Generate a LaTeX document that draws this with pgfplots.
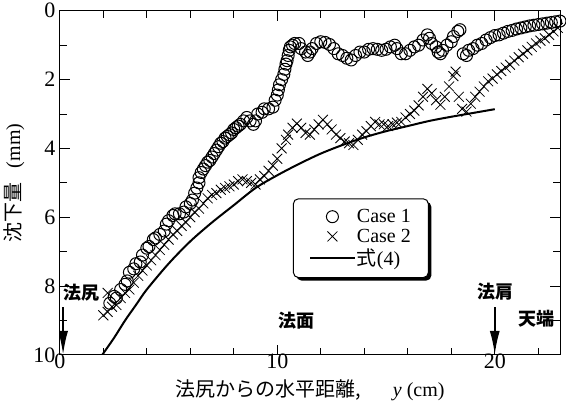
\documentclass[border=0pt]{standalone}
\usepackage{pgfplots}
\pgfplotsset{compat=1.18}
\usepackage{fontspec}
\setmainfont{Liberation Serif}
\newfontfamily\jp{Noto Sans CJK JP}
\usetikzlibrary{arrows.meta,shadows}
\makeatletter
\tikzset{nopre/.code={\let\tikz@preactions\pgfutil@empty}}
\makeatother
\begin{document}
\begin{tikzpicture}
\begin{axis}[
  scale only axis, width=500pt, height=344pt,
  xmin=0, xmax=23, ymin=0, ymax=10, y dir=reverse,
  xtick={0,10,20}, minor xtick={2,4,6,8,12,14,16,18,22},
  ytick={0,2,4,6,8,10}, minor ytick={1,3,5,7,9},
  tick align=inside, major tick length=10pt, minor tick length=7pt,
  tick style={black, line width=0.8pt},
  axis line style={line width=1pt},
  ticklabel style={font=\fontsize{22}{22}\selectfont},
  xticklabel style={yshift=5pt},
  yticklabel style={xshift=-1pt},
  /pgf/number format/assume math mode=true,
  xlabel={{\jp 法尻からの水平距離,}\hspace{1.6em}\textit{y} (cm)},
  ylabel={{\jp 沈下量}\hspace{0.7em}(mm)},
  label style={font=\fontsize{20}{20}\selectfont},
  xlabel style={yshift=-5pt},
  ylabel style={yshift=2pt},
  legend cell align=left,
  legend image code/.code={\draw[nopre,mark repeat=2,mark phase=2,#1] plot coordinates {(0pt,0pt)(22pt,0pt)(44pt,0pt)};},
  legend style={at={(0.466,0.455)}, anchor=north west, rounded corners=5pt,
    draw=black, line width=1pt, fill=white,
    drop shadow={shadow xshift=3pt, shadow yshift=-3pt, fill=black, opacity=1},
    font=\fontsize{20}{20}\selectfont, inner xsep=16pt, inner ysep=9pt, row sep=2pt,
    nodes={inner sep=1.5pt},
    /tikz/every even column/.append style={column sep=22pt}},
]
\addplot[only marks, mark=o, mark size=6pt, mark options={line width=1pt, fill=white}] coordinates {
(2.3,8.5)(2.5,8.3)(2.6,8.35)(2.8,8.1)(3.0,7.95)(3.1,7.85)(3.2,7.6)(3.4,7.5)(3.5,7.35)(3.7,7.3)
(3.8,7.1)(4.0,6.9)(4.1,6.85)(4.3,6.65)(4.4,6.6)(4.6,6.5)(4.8,6.4)(4.9,6.2)(5.0,6.1)(5.2,5.95)
(5.3,5.9)(5.5,5.9)(5.7,5.85)(5.8,5.7)(6.0,5.6)(6.1,5.5)(6.2,5.3)(6.3,5.15)(6.4,5.0)(6.4,4.85)
(6.5,4.7)(6.6,4.6)(6.7,4.5)(6.8,4.4)(6.9,4.35)(7.0,4.25)(7.1,4.15)(7.2,4.05)(7.3,3.95)(7.4,3.85)
(7.5,3.8)(7.6,3.7)(7.7,3.65)(7.8,3.6)(7.9,3.55)(8.0,3.45)(8.1,3.4)(8.2,3.35)(8.3,3.3)(8.45,3.2)
(8.6,3.1)(8.75,3.2)(8.9,3.3)(9.0,3.2)(9.1,3.0)(9.3,2.95)(9.4,2.85)(9.6,2.85)(9.8,2.8)(9.9,2.6)
(10.0,2.45)(10.05,2.3)(10.1,2.15)(10.2,2.0)(10.3,1.85)(10.35,1.7)(10.4,1.55)(10.45,1.45)(10.5,1.3)(10.55,1.15)
(10.6,1.05)(10.7,1.0)(10.8,0.95)(11.0,0.95)(11.1,1.1)(11.3,1.2)(11.4,1.3)(11.5,1.2)(11.6,1.1)(11.8,0.95)
(12.0,0.9)(12.2,0.92)(12.4,0.98)(12.6,1.1)(12.8,1.25)(13.0,1.3)(13.2,1.38)(13.4,1.43)(13.6,1.3)(13.8,1.2)
(14.0,1.2)(14.2,1.12)(14.4,1.1)(14.6,1.12)(14.8,1.15)(15.0,1.12)(15.2,1.05)(15.4,1.0)(15.5,1.1)(15.7,1.25)
(15.9,1.25)(16.1,1.15)(16.3,1.05)(16.5,1.0)(16.7,0.85)(16.9,0.7)(17.0,0.8)(17.1,0.95)(17.3,1.05)(17.4,1.2)
(17.5,1.25)(17.6,1.15)(17.8,1.0)(18.0,0.9)(18.1,0.75)(18.3,0.6)(18.4,0.55)(18.55,1.25)(18.7,1.3)(18.8,1.15)
(19.0,1.1)(19.2,1.0)(19.4,0.95)(19.6,0.85)(19.8,0.78)(20.0,0.72)(20.2,0.7)(20.4,0.65)(20.6,0.6)(20.8,0.57)
(21.0,0.53)(21.2,0.5)(21.4,0.47)(21.6,0.44)(21.8,0.42)(22.0,0.4)(22.2,0.38)(22.4,0.36)(22.6,0.34)(22.8,0.32)(23.0,0.3)
};
\addlegendentry{Case 1}
\addplot[only marks, mark=x, mark size=7pt, mark options={line width=0.8pt}] coordinates {
(2.0,8.85)(2.2,8.75)(2.2,8.2)(2.4,8.6)(2.6,8.55)(2.8,8.35)(3.0,8.2)(3.2,8.1)(3.4,7.9)(3.6,7.7)
(3.8,7.55)(4.0,7.4)(4.2,7.25)(4.4,7.1)(4.6,6.95)(4.8,6.8)(5.0,6.65)(5.2,6.5)(5.4,6.4)(5.6,6.25)
(5.8,6.15)(6.0,6.0)(6.2,5.85)(6.4,5.75)(6.6,5.6)(6.8,5.45)(7.0,5.35)(7.2,5.3)(7.4,5.2)(7.6,5.15)
(7.8,5.1)(8.0,5.05)(8.2,4.95)(8.4,4.9)(8.6,4.95)(8.8,5.0)(9.0,5.05)(9.2,4.9)(9.4,4.8)(9.6,4.65)
(9.8,4.5)(10.0,4.3)(10.2,4.0)(10.4,3.75)(10.5,3.6)(10.7,3.4)(10.9,3.28)(11.1,3.4)(11.3,3.55)(11.5,3.6)
(11.7,3.45)(11.9,3.3)(12.1,3.17)(12.3,3.3)(12.5,3.45)(12.7,3.6)(12.9,3.7)(13.1,3.8)(13.3,3.85)(13.5,3.9)
(13.7,3.75)(13.9,3.6)(14.1,3.5)(14.3,3.35)(14.5,3.23)(14.7,3.3)(14.9,3.3)(15.1,3.35)(15.3,3.3)(15.5,3.25)
(15.7,3.23)(15.9,3.1)(16.1,3.0)(16.3,2.9)(16.5,2.75)(16.7,2.5)(16.9,2.27)(17.1,2.4)(17.3,2.6)(17.5,2.73)
(17.7,2.5)(17.9,2.2)(18.1,1.9)(18.2,1.77)(18.35,2.5)(18.5,2.85)(18.7,2.93)(18.9,2.7)(19.1,2.5)(19.3,2.35)
(19.5,2.2)(19.7,2.05)(19.9,1.97)(20.1,1.85)(20.3,1.75)(20.5,1.65)(20.7,1.57)(20.9,1.45)(21.1,1.35)(21.3,1.25)
(21.5,1.15)(21.7,1.05)(21.9,0.95)(22.1,0.87)(22.3,0.8)(22.5,0.7)(22.7,0.6)(22.9,0.5)
};
\addlegendentry{Case 2}
\addplot[black, line width=2pt, smooth, no marks] coordinates {
(1.95,10)(2.5,9.5)(3,9.0)(3.5,8.55)(4,8.1)(5,7.35)(6,6.7)(7,6.15)(8,5.65)(9,5.15)(10,4.78)
(11,4.45)(12,4.15)(13,3.9)(14,3.68)(15,3.5)(16,3.35)(17,3.2)(18,3.08)(19,2.97)(20,2.86)
};
\addlegendentry{{\jp 式}(4)}
\draw[line width=2pt, -{Latex[length=24pt,width=10pt]}] (axis cs:0.15,8.62) -- (axis cs:0.15,10);
\draw[line width=2pt, -{Latex[length=24pt,width=10pt]}] (axis cs:20,8.62) -- (axis cs:20,10);
\node[font=\jp\bfseries\fontsize{18}{18}\selectfont] at (axis cs:1.0,8.2) {法尻};
\node[font=\jp\bfseries\fontsize{18}{18}\selectfont] at (axis cs:20.05,8.17) {法肩};
\node[font=\jp\bfseries\fontsize{18}{18}\selectfont] at (axis cs:10.9,9.0) {法面};
\node[font=\jp\bfseries\fontsize{18}{18}\selectfont] at (axis cs:21.9,8.95) {天端};
\end{axis}
\end{tikzpicture}
\end{document}
